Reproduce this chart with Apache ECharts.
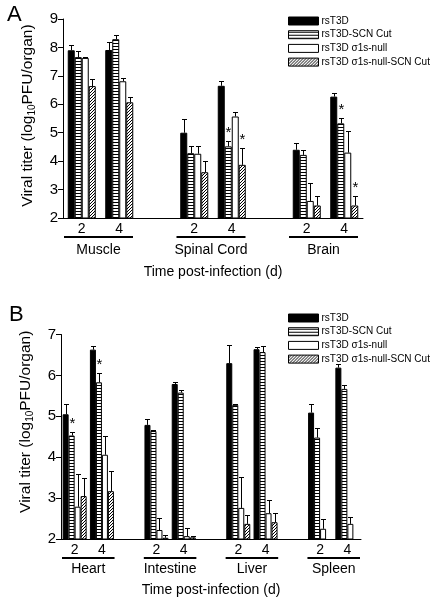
<!DOCTYPE html>
<html><head><meta charset="utf-8">
<script src="https://cdn.jsdelivr.net/npm/echarts@6/dist/echarts.min.js"></script>
<style>html,body{margin:0;padding:0;background:#fff}#c{width:430px;height:600px}</style>
</head><body><div id="c"></div>
<script>
// ---------- DATA ----------
const seriesNames = ['rsT3D', 'rsT3D-SCN Cut', 'rsT3D σ1s-null', 'rsT3D σ1s-null-SCN Cut'];

// Panel A
const daysA = ['2', '4', '', '2', '4', '', '2', '4'];
const organsA = ['Muscle', 'Spinal Cord', 'Brain'];
const organSlotsA = [[0, 1], [3, 4], [6, 7]];
const yRangeA = [2, 9];
const aWT      = [7.90, 7.91, null, 5.00, 6.65, null, 4.40, 6.27];
const aWTerr   = [0.17, 0.28, null, 0.50, 0.17, null, 0.23, 0.13];
const aSCN     = [7.66, 8.29, null, 4.28, 4.52, null, 4.22, 5.33];
const aSCNerr  = [0.22, 0.14, null, 0.27, 0.19, null, 0.18, 0.18];
const aNull    = [7.63, 6.81, null, 4.26, 5.57, null, 2.60, 4.30];
const aNullerr = [0.02, 0.12, null, 0.29, 0.17, null, 0.63, 0.77];
const aNS      = [6.64, 6.07, null, 3.61, 3.87, null, 2.44, 2.44];
const aNSerr   = [0.25, 0.20, null, 0.38, 0.59, null, 0.32, 0.35];
const aSCNstar = [0, 0, 0, 0, 1, 0, 0, 1];
const aNSstar  = [0, 0, 0, 0, 1, 0, 0, 1];

// Panel B
const daysB = ['2', '4', '', '2', '4', '', '2', '4', '', '2', '4'];
const organsB = ['Heart', 'Intestine', 'Liver', 'Spleen'];
const organSlotsB = [[0, 1], [3, 4], [6, 7], [9, 10]];
const yRangeB = [2, 7];
const bWT      = [5.05, 6.63, null, 4.79, 5.79, null, 6.30, 6.64, null, 5.09, 6.19];
const bWTerr   = [0.25, 0.08, null, 0.14, 0.06, null, 0.45, 0.05, null, 0.20, 0.09];
const bSCN     = [4.53, 5.83, null, 4.64, 5.58, null, 5.28, 6.57, null, 4.48, 5.67];
const bSCNerr  = [0.08, 0.22, null, 0.03, 0.06, null, 0.02, 0.14, null, 0.23, 0.09];
const bNull    = [2.79, 4.06, null, 2.22, 2.07, null, 2.76, 2.63, null, 2.25, 2.37];
const bNullerr = [0.80, 0.46, null, 0.30, 0.21, null, 0.75, 0.33, null, 0.25, 0.17];
const bNS      = [3.05, 3.17, null, 2.03, 2.04, null, 2.37, 2.41, null, null, null];
const bNSerr   = [0.43, 0.49, null, 0.07, 0.03, null, 0.21, 0.22, null, null, null];
const bSCNstar = [1, 1, 0, 0, 0, 0, 0, 0, 0, 0, 0];
const bNSstar  = [0, 0, 0, 0, 0, 0, 0, 0, 0, 0, 0];

// ---------- STYLE ----------
const FONT = 'Liberation Sans, Arial, sans-serif';
function makeStripes() {
  const c = document.createElement('canvas'); c.width = 4; c.height = 3;
  const g = c.getContext('2d'); g.fillStyle = '#fff'; g.fillRect(0, 0, 4, 3);
  g.fillStyle = '#000'; g.fillRect(0, 1, 4, 1); return c;
}
function makeHatch() {
  const c = document.createElement('canvas'); c.width = 3; c.height = 3;
  const g = c.getContext('2d'); g.fillStyle = '#fff'; g.fillRect(0, 0, 3, 3);
  g.fillStyle = '#000'; g.fillRect(0, 2, 1, 1); g.fillRect(1, 1, 1, 1); g.fillRect(2, 0, 1, 1); return c;
}
const fills = ['#000', { image: makeStripes(), repeat: 'repeat' }, '#fff', { image: makeHatch(), repeat: 'repeat' }];

function errRender(bw, gap) {
  return function (params, api) {
    const i = api.value(0), s = api.value(1), v = api.value(2), e = api.value(3), star = api.value(4);
    const base = api.coord([i, v]);
    const top = api.coord([i, v + e]);
    const x = Math.round(base[0] + (s - 1.5) * (bw + gap)) + 0.5;
    const ty = Math.round(top[1]) + 0.5;
    const ch = [
      { type: 'line', shape: { x1: x, y1: base[1], x2: x, y2: ty }, style: { stroke: '#000', lineWidth: 1 } },
      { type: 'line', shape: { x1: x - 2.5, y1: ty, x2: x + 2.5, y2: ty }, style: { stroke: '#000', lineWidth: 1 } }
    ];
    if (star) ch.push({ type: 'text', style: { text: '*', x: x, y: ty - 1, align: 'center', verticalAlign: 'bottom', font: '15px ' + FONT, fill: '#000' } });
    return { type: 'group', children: ch };
  };
}
function errData(vals, errs, stars) {
  const out = [];
  vals.forEach((arr, s) => arr.forEach((v, i) => {
    if (v != null) out.push([i, s, v, errs[s][i], stars[s] ? stars[s][i] : 0]);
  }));
  return out;
}

const valsA = [aWT, aSCN, aNull, aNS], errsA = [aWTerr, aSCNerr, aNullerr, aNSerr], starsA = [null, aSCNstar, null, aNSstar];
const valsB = [bWT, bSCN, bNull, bNS], errsB = [bWTerr, bSCNerr, bNullerr, bNSerr], starsB = [null, bSCNstar, null, bNSstar];
const BW_A = 7, BW_B = 6;

const series = [];
valsA.forEach((arr, s) => series.push({
  type: 'bar', name: seriesNames[s], xAxisIndex: 0, yAxisIndex: 0, data: arr,
  barWidth: BW_A, barGap: '0%', itemStyle: { color: fills[s], borderColor: '#000', borderWidth: 1 }, silent: true, animation: false
}));
valsB.forEach((arr, s) => series.push({
  type: 'bar', name: seriesNames[s], xAxisIndex: 1, yAxisIndex: 1, data: arr,
  barWidth: BW_B, barGap: '0%', itemStyle: { color: fills[s], borderColor: '#000', borderWidth: 1 }, silent: true, animation: false
}));
series.push({ type: 'custom', xAxisIndex: 0, yAxisIndex: 0, renderItem: errRender(BW_A, 0), data: errData(valsA, errsA, starsA), encode: { x: 0, y: 2 }, z: 5, animation: false, silent: true });
series.push({ type: 'custom', xAxisIndex: 1, yAxisIndex: 1, renderItem: errRender(BW_B, 0), data: errData(valsB, errsB, starsB), encode: { x: 0, y: 2 }, z: 5, animation: false, silent: true });

const yName = 'Viral titer (log{s|10}PFU/organ)';
function yAxis(gi, range, pad) {
  return {
    type: 'value', gridIndex: gi, min: range[0], max: range[1], interval: 1,
    axisLine: { show: true, lineStyle: { color: '#000', width: 1 } },
    axisTick: { show: true, length: 5, lineStyle: { color: '#000' } },
    axisLabel: { color: '#000', fontSize: 15, fontFamily: FONT, margin: 5 },
    splitLine: { show: false },
    name: yName, nameLocation: 'middle', nameGap: 26,
    nameTextStyle: { color: '#000', fontSize: 15.5, fontFamily: FONT, padding: pad,
      rich: { s: { fontSize: 10, fontFamily: FONT, color: '#000', verticalAlign: 'bottom', padding: [9, 0, 0, 0] } } }
  };
}
function xAxis(gi, days, gap) {
  return {
    type: 'category', gridIndex: gi, data: days,
    axisLine: { show: true, lineStyle: { color: '#000', width: 1 } },
    axisTick: { show: false },
    axisLabel: { color: '#000', fontSize: 14, fontFamily: FONT, margin: 4, interval: 0 },
    name: 'Time post-infection (d)', nameLocation: 'middle', nameGap: gap,
    nameTextStyle: { color: '#000', fontSize: 14, fontFamily: FONT }
  };
}
function legend(top) {
  return {
    orient: 'vertical', left: 283, top: top, icon: 'rect', itemWidth: 30, itemHeight: 8, itemGap: 3.7,
    data: seriesNames, selectedMode: false,
    itemStyle: { borderColor: '#000', borderWidth: 1 },
    textStyle: { color: '#000', fontSize: 10, fontFamily: FONT, lineHeight: 10, padding: [0, 0, 0, -2] }
  };
}

const chart = echarts.init(document.getElementById('c'), null, { renderer: 'canvas' });
chart.setOption({
  animation: false,
  backgroundColor: '#fff',
  grid: [
    { left: 63, top: 19, width: 300, height: 199 },
    { left: 61, top: 334.5, width: 300, height: 204.5 }
  ],
  xAxis: [xAxis(0, daysA, 47), xAxis(1, daysB, 44)],
  yAxis: [yAxis(0, yRangeA, [0, 0, 0, 6]), yAxis(1, yRangeB, [0, 0, 0, 30])],
  legend: [legend(11), legend(308)],
  series: series
});

// group labels and underlines, placed from the axis scales
function decor(xi, yi, organs, slots, yMin, dLine, dText, shrinkR) {
  const out = [];
  const x0 = chart.convertToPixel({ xAxisIndex: xi }, 0);
  const x1 = chart.convertToPixel({ xAxisIndex: xi }, 1);
  const band = x1 - x0;
  const yb = chart.convertToPixel({ yAxisIndex: yi }, yMin);
  organs.forEach((name, k) => {
    const a = chart.convertToPixel({ xAxisIndex: xi }, slots[k][0]) - band / 2 + 1;
    const b = chart.convertToPixel({ xAxisIndex: xi }, slots[k][1]) + band / 2 - shrinkR;
    out.push({ type: 'rect', shape: { x: a, y: yb + dLine - 1, width: b - a, height: 2 }, style: { fill: '#000' }, silent: true });
    out.push({ type: 'text', style: { text: name, x: (a + b) / 2, y: yb + dText, align: 'center', verticalAlign: 'middle', font: '14px ' + FONT, fill: '#000' }, silent: true });
  });
  return out;
}
const g = [].concat(
  decor(0, 0, organsA, organSlotsA, yRangeA[0], 19, 32, 5),
  decor(1, 1, organsB, organSlotsB, yRangeB[0], 19, 30.5, 1),
  [
    { type: 'text', style: { text: 'A', x: 7, y: 4, font: '22px ' + FONT, fill: '#000' }, silent: true },
    { type: 'text', style: { text: 'B', x: 9, y: 304, font: '22px ' + FONT, fill: '#000' }, silent: true }
  ]
);
chart.setOption({ graphic: g });
</script></body></html>
